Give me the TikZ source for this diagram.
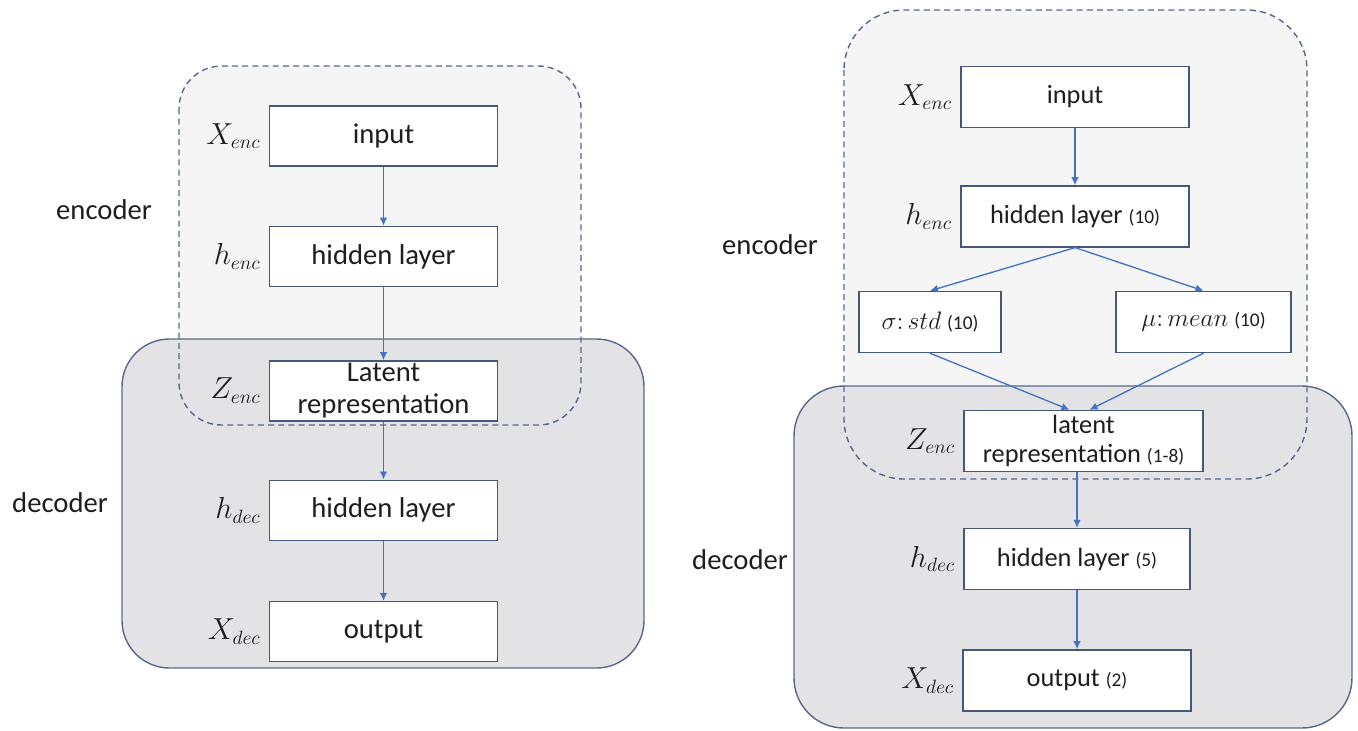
\documentclass[tikz,border=0pt]{standalone}
\usepackage{fontspec}
\setmainfont{Carlito}
\usepackage{tikz}
\usetikzlibrary{arrows.meta,positioning,backgrounds}
\definecolor{edgeblue}{RGB}{70,88,122}
\definecolor{arrowblue}{RGB}{68,114,196}
\definecolor{framec}{RGB}{88,104,140}
\definecolor{encgray}{RGB}{245,245,246}
\definecolor{decgray}{RGB}{227,227,229}
\definecolor{txt}{RGB}{30,30,30}
\newcommand{\layersize}[1]{{\fontsize{11}{13}\selectfont(#1)}}

\begin{document}
\begin{tikzpicture}[text=txt,
box/.style={draw=edgeblue, fill=white, line width=0.8pt, minimum width=4.56cm, minimum height=1.2cm, inner sep=0pt, align=center, font=\fontsize{16.3}{18.5}\selectfont},
rbox/.style={box, minimum height=1.22cm, font=\fontsize{15}{17}\selectfont},
lbl/.style={inner sep=1pt, font=\fontsize{16}{18}\selectfont},
grp/.style={inner sep=0pt, font=\fontsize{16.3}{18}\selectfont},
arrow/.style={-{Latex[length=1.6mm,width=1.5mm]}, line width=0.75pt, arrowblue},
encframe/.style={draw=framec, dashed, dash pattern=on 3.4pt off 2.4pt, line width=0.8pt},
decframe/.style={draw=framec, fill=decgray, line width=0.8pt}]
\useasboundingbox (0,0) rectangle (27.16,-14.6);

\node[box] (in1) at (7.67,-2.72) {input};
\node[box, below=1.18cm of in1] (hid1) {hidden layer};
\node[box, below=1.46cm of hid1] (lat1) {Latent\\representation};
\node[box, below=1.16cm of lat1] (hdec1) {hidden layer};
\node[box, below=1.2cm of hdec1] (out1) {output};
\node[lbl, left=0.12cm of in1] (xenc1) {$X_{enc}$};
\node[lbl, left=0.12cm of hid1] (henc1) {$h_{enc}$};
\node[lbl, left=0.12cm of lat1] (zenc1) {$Z_{enc}$};
\node[lbl, left=0.12cm of hdec1] (hdecl1) {$h_{dec}$};
\node[lbl, left=0.12cm of out1] (xdec1) {$X_{dec}$};
\node[grp] (enc1) at (2.08,-4.2) {encoder};
\node[grp] (dec1) at (1.2,-10.06) {decoder};
\draw[arrow] (in1)--(hid1);
\draw[arrow] (hid1)--(lat1);
\draw[arrow] (lat1)--(hdec1);
\draw[arrow] (hdec1)--(out1);

\node[rbox] (in2) at (21.5,-1.94) {input};
\node[rbox, below=1.14cm of in2] (hid2) {hidden layer \layersize{10}};
\node[rbox, minimum width=2.84cm] (sig) at (18.6,-6.44) {$\sigma\colon std$ \layersize{10}};
\node[rbox, minimum width=3.5cm] (mu) at (24.07,-6.44) {$\mu\colon mean$ \layersize{10}};
\node[rbox, minimum width=4.78cm] (lat2) at (21.67,-8.82) {latent\\representation \layersize{1-8}};
\node[rbox, minimum width=4.52cm] (hdec2) at (21.54,-11.18) {hidden layer \layersize{5}};
\node[rbox, below=1.18cm of hdec2] (out2) {output \layersize{2}};
\node[lbl, left=0.12cm of in2] (xenc2) {$X_{enc}$};
\node[lbl, left=0.12cm of hid2] (henc2) {$h_{enc}$};
\node[lbl, left=0.12cm of lat2] (zenc2) {$Z_{enc}$};
\node[lbl, left=0.12cm of hdec2] (hdecl2) {$h_{dec}$};
\node[lbl, left=0.12cm of out2] (xdec2) {$X_{dec}$};
\node[grp] (enc2) at (15.4,-4.9) {encoder};
\node[grp] (dec2) at (14.8,-11.2) {decoder};
\draw[arrow] (in2)--(hid2);
\draw[arrow] (hid2.south)--(sig.north);
\draw[arrow] (hid2.south)--(mu.north);
\draw[arrow] (sig.south)--([xshift=-0.28cm]lat2.north);
\draw[arrow] (mu.south)--([xshift=0.12cm]lat2.north);
\draw[arrow] (lat2.south -| hdec2)--(hdec2);
\draw[arrow] (hdec2)--(out2);

\begin{scope}[on background layer]
\fill[encgray, rounded corners=0.85cm] (3.58,-1.32) rectangle (11.62,-8.5);
\draw[decframe, rounded corners=0.95cm] (2.44,-6.78) rectangle (12.88,-13.36);
\draw[encframe, rounded corners=0.85cm] (3.58,-1.32) rectangle (11.62,-8.5);
\fill[encgray, rounded corners=1.2cm] (16.88,-0.2) rectangle (26.14,-9.58);
\draw[decframe, rounded corners=1cm] (15.88,-7.72) rectangle (27.04,-14.56);
\draw[encframe, rounded corners=1.2cm] (16.88,-0.2) rectangle (26.14,-9.58);
\end{scope}
\end{tikzpicture}
\end{document}
